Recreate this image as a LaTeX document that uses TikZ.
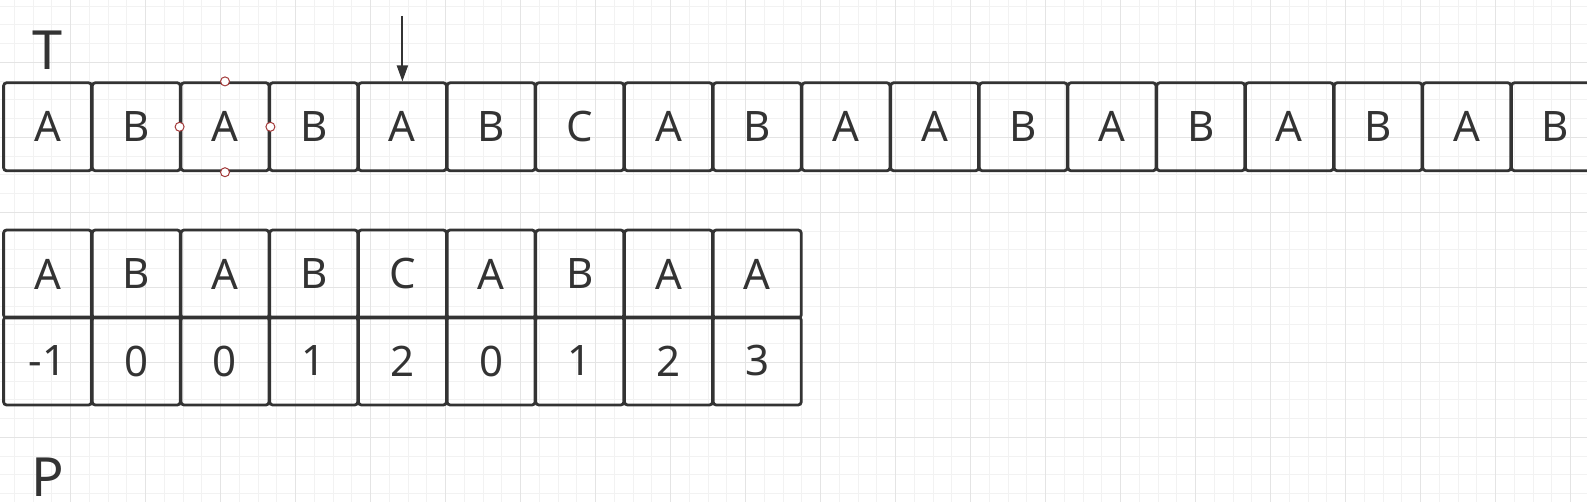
\documentclass[tikz,border=0pt]{standalone}
\usepackage{fontspec}
\setmainfont{Noto Sans}
\usetikzlibrary{arrows.meta}
\definecolor{ink}{HTML}{333333}
\definecolor{gridminor}{HTML}{F2F2F2}
\definecolor{gridmajor}{HTML}{E4E4E4}
\definecolor{handlered}{HTML}{A33A3A}
\tikzset{>={Triangle[length=16pt,width=11pt]}}
\tikzset{cell/.style={draw=ink, line width=2.8pt, rounded corners=3pt, minimum width=88pt, minimum height=88pt, inner sep=0pt, text=ink, font=\fontsize{42}{50}\selectfont}}
\tikzset{handlemark/.style={circle, draw=handlered, fill=white, line width=1pt, minimum size=9pt, inner sep=0pt}}
\tikzset{biglabel/.style={anchor=base, inner sep=0pt, text=ink, font=\fontsize{54}{60}\selectfont}}

\begin{document}
\begin{tikzpicture}[x=1pt,y=-1pt]
\useasboundingbox (0,0) rectangle (1587,502);
\clip (0,0) rectangle (1587,502);
\fill[white] (0,0) rectangle (1587,502);
% grid
\foreach \i in {0,...,84} \draw[gridminor, line width=1pt] ({14.45+18.75*\i},0) -- ({14.45+18.75*\i},502);
\foreach \j in {0,...,26} \draw[gridminor, line width=1pt] (0,{6.05+18.75*\j}) -- (1587,{6.05+18.75*\j});
\foreach \i in {0,...,20} \draw[gridmajor, line width=1pt] ({70.7+75*\i},0) -- ({70.7+75*\i},502);
\foreach \j in {0,...,5} \draw[gridmajor, line width=1pt] (0,{62.3+75*\j}) -- (1587,{62.3+75*\j});
%%%%%%%%%%%% text T
\node[biglabel] (labelT) at (47.3,70) {T};
\foreach \c [count=\i] in {A,B,A,B,A,B,C,A,B,A,A,B,A,B,A,B,A,B}
  \node[cell] (t\i) at ({47.6+88.7*(\i-1)},126.8) {\c};
\foreach \a in {north,south,east,west} \node[handlemark] (h\a) at (t3.\a) {};
\coordinate (arrowtop) at (402.4,16);
\draw[->, ink, line width=2pt] (arrowtop) -- (t5.north);
%%%%%%%%%%%% pattern P
\foreach \c [count=\i] in {A,B,A,B,C,A,B,A,A}
  \node[cell] (p\i) at ({47.6+88.7*(\i-1)},274) {\c};
\foreach \c [count=\i] in {-1,0,0,1,2,0,1,2,3}
  \node[cell] (n\i) at ({47.6+88.7*(\i-1)},361) {\c};
\node[biglabel] (labelP) at (48,496) {P};
\end{tikzpicture}
\end{document}
